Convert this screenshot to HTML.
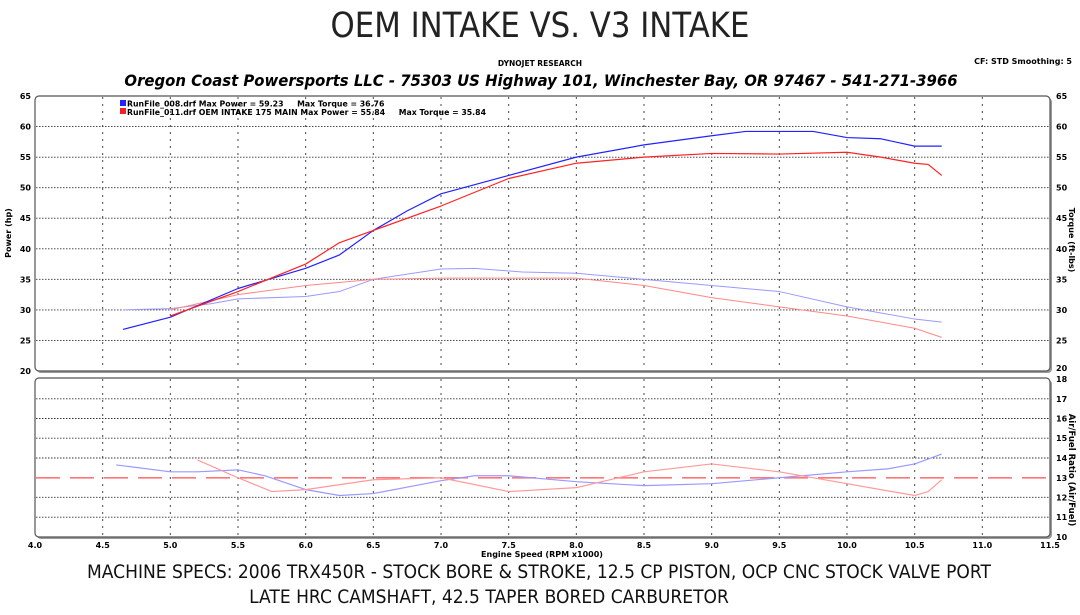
<!DOCTYPE html>
<html><head><meta charset="utf-8"><style>
body{margin:0;background:#fff;width:1080px;height:615px;overflow:hidden}
svg{display:block}
text{font-family:"DejaVu Sans","Liberation Sans",sans-serif}
</style></head><body>
<svg width="1080" height="615" viewBox="0 0 1080 615">
<text x="540" y="37" text-anchor="middle" font-family="Liberation Sans" font-size="35" transform="translate(540,0) scale(0.88,1) translate(-540,0)" fill="#222">OEM INTAKE VS. V3 INTAKE</text>
<text x="540" y="66" text-anchor="middle" font-size="7.5" font-weight="bold">DYNOJET RESEARCH</text>
<text x="1072" y="64" text-anchor="end" font-size="8" font-weight="bold">CF: STD  Smoothing: 5</text>
<text x="541" y="86" text-anchor="middle" font-size="16" font-weight="bold" font-style="italic" transform="translate(541,0) scale(0.93,1) translate(-541,0)">Oregon Coast Powersports LLC - 75303 US Highway 101, Winchester Bay, OR 97467 - 541-271-3966</text>

<rect x="37" y="98" width="1015" height="275" rx="4" fill="#999"/>
<rect x="35" y="96" width="1015" height="275" rx="4" fill="#fff" stroke="#555" stroke-width="1.2"/>
<rect x="37" y="380" width="1015" height="159" rx="4" fill="#999"/>
<rect x="35" y="378" width="1015" height="159" rx="4" fill="#fff" stroke="#555" stroke-width="1.2"/>

<g stroke="#333" stroke-width="0.9" stroke-dasharray="1.5,1.5">
<line x1="36" x2="1049" y1="126.6" y2="126.6"/><line x1="36" x2="1049" y1="157.2" y2="157.2"/><line x1="36" x2="1049" y1="187.7" y2="187.7"/><line x1="36" x2="1049" y1="218.2" y2="218.2"/><line x1="36" x2="1049" y1="248.8" y2="248.8"/><line x1="36" x2="1049" y1="279.3" y2="279.3"/><line x1="36" x2="1049" y1="309.9" y2="309.9"/><line x1="36" x2="1049" y1="340.4" y2="340.4"/>
<line x1="36" x2="1049" y1="398.8" y2="398.8"/><line x1="36" x2="1049" y1="418.5" y2="418.5"/><line x1="36" x2="1049" y1="438.2" y2="438.2"/><line x1="36" x2="1049" y1="458" y2="458"/><line x1="36" x2="1049" y1="497.3" y2="497.3"/><line x1="36" x2="1049" y1="517.2" y2="517.2"/>
</g>
<g stroke="#333" stroke-width="0.9" stroke-dasharray="2,5">
<line x1="102.7" x2="102.7" y1="97" y2="370"/><line x1="170.3" x2="170.3" y1="97" y2="370"/><line x1="238" x2="238" y1="97" y2="370"/><line x1="305.7" x2="305.7" y1="97" y2="370"/><line x1="373.3" x2="373.3" y1="97" y2="370"/><line x1="441" x2="441" y1="97" y2="370"/><line x1="508.7" x2="508.7" y1="97" y2="370"/><line x1="576.3" x2="576.3" y1="97" y2="370"/><line x1="644" x2="644" y1="97" y2="370"/><line x1="711.7" x2="711.7" y1="97" y2="370"/><line x1="779.3" x2="779.3" y1="97" y2="370"/><line x1="847" x2="847" y1="97" y2="370"/><line x1="914.7" x2="914.7" y1="97" y2="370"/><line x1="982.3" x2="982.3" y1="97" y2="370"/>
<line x1="102.7" x2="102.7" y1="379" y2="536"/><line x1="170.3" x2="170.3" y1="379" y2="536"/><line x1="238" x2="238" y1="379" y2="536"/><line x1="305.7" x2="305.7" y1="379" y2="536"/><line x1="373.3" x2="373.3" y1="379" y2="536"/><line x1="441" x2="441" y1="379" y2="536"/><line x1="508.7" x2="508.7" y1="379" y2="536"/><line x1="576.3" x2="576.3" y1="379" y2="536"/><line x1="644" x2="644" y1="379" y2="536"/><line x1="711.7" x2="711.7" y1="379" y2="536"/><line x1="779.3" x2="779.3" y1="379" y2="536"/><line x1="847" x2="847" y1="379" y2="536"/><line x1="914.7" x2="914.7" y1="379" y2="536"/><line x1="982.3" x2="982.3" y1="379" y2="536"/>
</g>

<line x1="36" x2="1049" y1="477.8" y2="477.8" stroke="#f77" stroke-width="1.6" stroke-dasharray="24,10"/>

<g transform="translate(35,371) scale(135.333,-6.111) translate(-4,-20)" fill="none" stroke-linejoin="round">
<polyline vector-effect="non-scaling-stroke" stroke="#99f" stroke-width="1" points="4.65,30 5.0,30.2 5.3,31 5.5,31.8 6.0,32.2 6.25,33 6.5,35 7.0,36.7 7.25,36.8 7.6,36.2 8.0,36 8.5,35 9.0,34 9.5,33 10.0,30.5 10.5,28.5 10.7,28"/>
<polyline vector-effect="non-scaling-stroke" stroke="#f88" stroke-width="1" points="5.0,30 5.5,32.5 6.0,34 6.5,35 7.0,35.2 8.0,35.2 8.5,34 9.0,32 9.5,30.5 10.0,29 10.5,27 10.7,25.5"/>
<polyline vector-effect="non-scaling-stroke" stroke="#22f" stroke-width="1.2" points="4.65,26.8 5.0,28.8 5.5,33.5 6.0,36.8 6.25,39 6.5,43 6.75,46.2 7.0,49 7.5,52 8.0,55 8.5,57 9.0,58.5 9.25,59.2 9.75,59.2 10.0,58.2 10.25,58 10.5,56.8 10.7,56.8"/>
<polyline vector-effect="non-scaling-stroke" stroke="#f22" stroke-width="1.2" points="5.0,29 5.5,33 6.0,37.5 6.25,41 6.5,43 7.0,47 7.5,51.5 8.0,54 8.5,55 9.0,55.6 9.5,55.5 10.0,55.8 10.25,55 10.5,54 10.6,53.8 10.7,52"/>
</g>
<g transform="translate(35,537) scale(135.333,-19.75) translate(-4,-10)" fill="none" stroke-linejoin="round">
<polyline vector-effect="non-scaling-stroke" stroke="#99f" stroke-width="1.2" points="4.6,13.65 5.0,13.3 5.2,13.3 5.5,13.4 5.7,13.1 6.0,12.4 6.25,12.1 6.5,12.2 7.0,12.85 7.25,13.1 7.5,13.1 8,12.8 8.5,12.6 9,12.7 9.5,13.0 10,13.3 10.3,13.45 10.5,13.7 10.7,14.2"/>
<polyline vector-effect="non-scaling-stroke" stroke="#f99" stroke-width="1.2" points="5.2,13.9 5.5,13.0 5.75,12.3 6.0,12.4 6.5,12.9 7.0,13.0 7.5,12.3 8.0,12.5 8.5,13.3 9.0,13.7 9.5,13.3 10,12.7 10.5,12.1 10.6,12.3 10.7,12.9"/>
</g>

<rect x="120" y="100" width="6" height="6" fill="#22f"/>
<rect x="120" y="108" width="6" height="6" fill="#e22"/>
<text x="127" y="106.5" font-size="7.8" font-weight="bold" xml:space="preserve">RunFile_008.drf Max Power = 59.23     Max Torque = 36.76</text>
<text x="127" y="115" font-size="7.8" font-weight="bold" xml:space="preserve">RunFile_011.drf OEM INTAKE 175 MAIN Max Power = 55.84     Max Torque = 35.84</text>

<g font-size="8" font-weight="bold" text-anchor="end">
<text x="31" y="99">65</text><text x="31" y="129.6">60</text><text x="31" y="160.2">55</text><text x="31" y="190.7">50</text><text x="31" y="221.2">45</text><text x="31" y="251.8">40</text><text x="31" y="282.3">35</text><text x="31" y="312.9">30</text><text x="31" y="343.4">25</text><text x="31" y="374">20</text>
</g>
<g font-size="8" font-weight="bold" text-anchor="start">
<text x="1056" y="99">65</text><text x="1056" y="129.6">60</text><text x="1056" y="160.2">55</text><text x="1056" y="190.7">50</text><text x="1056" y="221.2">45</text><text x="1056" y="251.8">40</text><text x="1056" y="282.3">35</text><text x="1056" y="312.9">30</text><text x="1056" y="343.4">25</text><text x="1056" y="371">20</text>
<text x="1056" y="382">18</text><text x="1056" y="401.8">17</text><text x="1056" y="421.5">16</text><text x="1056" y="441.2">15</text><text x="1056" y="461">14</text><text x="1056" y="480.8">13</text><text x="1056" y="500.5">12</text><text x="1056" y="520.2">11</text><text x="1056" y="540">10</text>
</g>
<text transform="translate(11,233) rotate(-90)" text-anchor="middle" font-size="8" font-weight="bold">Power (hp)</text>
<text transform="translate(1069,240) rotate(90)" text-anchor="middle" font-size="8" font-weight="bold">Torque (ft-lbs)</text>
<text transform="translate(1069,470) rotate(90)" text-anchor="middle" font-size="8.5" font-weight="bold">Air/Fuel Ratio (Air/Fuel)</text>

<g font-size="8" font-weight="bold" text-anchor="middle">
<text x="35" y="548">4.0</text><text x="102.7" y="548">4.5</text><text x="170.3" y="548">5.0</text><text x="238" y="548">5.5</text><text x="305.7" y="548">6.0</text><text x="373.3" y="548">6.5</text><text x="441" y="548">7.0</text><text x="508.7" y="548">7.5</text><text x="576.3" y="548">8.0</text><text x="644" y="548">8.5</text><text x="711.7" y="548">9.0</text><text x="779.3" y="548">9.5</text><text x="847" y="548">10.0</text><text x="914.7" y="548">10.5</text><text x="982.3" y="548">11.0</text><text x="1050" y="548">11.5</text>
<text x="542" y="557">Engine Speed (RPM x1000)</text>
</g>

<text x="539" y="578" text-anchor="middle" font-family="Liberation Sans" font-size="19" transform="translate(539,0) scale(0.9,1) translate(-539,0)" fill="#111">MACHINE SPECS: 2006 TRX450R - STOCK BORE &amp; STROKE, 12.5 CP PISTON, OCP CNC STOCK VALVE PORT</text>
<text x="489" y="603" text-anchor="middle" font-family="Liberation Sans" font-size="19" transform="translate(489,0) scale(0.9,1) translate(-489,0)" fill="#111">LATE HRC CAMSHAFT, 42.5 TAPER BORED CARBURETOR</text>
</svg>
</body></html>
